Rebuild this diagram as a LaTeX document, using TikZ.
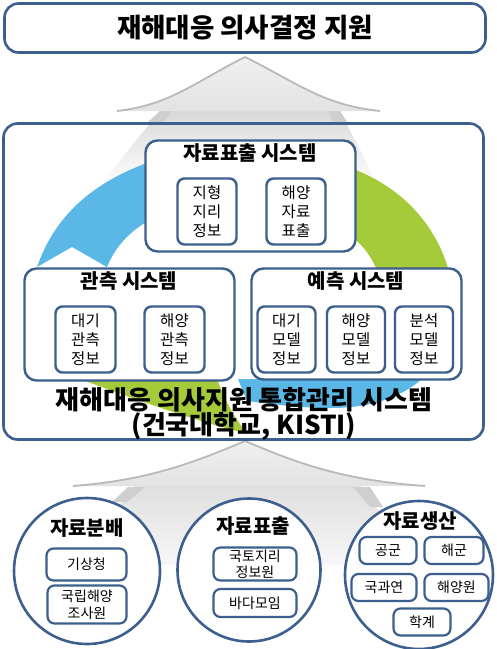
\documentclass[tikz,border=0pt]{standalone}
\usepackage{fontspec}
\setmainfont{Noto Sans CJK KR}
\definecolor{frame}{RGB}{60,95,142}
\definecolor{cycblue}{RGB}{91,184,230}
\definecolor{cycgreen}{RGB}{166,203,58}
\begin{document}
\begin{tikzpicture}[x=1pt,y=-1pt,
  panel/.style={draw=frame, line width=2.6pt, rounded corners=14pt, inner sep=0pt},
  group/.style={draw=frame, line width=2.4pt, rounded corners=12pt, fill=white, inner sep=0pt},
  item/.style={draw=frame, line width=2.4pt, rounded corners=7pt, fill=white, align=center, inner sep=0pt,
    minimum height=66pt, font=\fontsize{15.5}{19}\selectfont},
  chip/.style={draw=frame, line width=2.2pt, rounded corners=7pt, fill=white, align=center, inner sep=0pt,
    font=\fontsize{14}{16.5}\selectfont},
  hub/.style={draw=frame, line width=2.6pt, circle, fill=white, inner sep=0pt},
  grouptitle/.style={font=\fontsize{20}{22}\selectfont\bfseries},
  hubtitle/.style={font=\fontsize{20}{22}\selectfont\bfseries},
  roof/.style={draw=gray!55, line width=1.8pt},
]
\useasboundingbox (0,0) rectangle (497,649);
%----------------------------------------------------------
	% Upper gray arrow
	%------------------------------------------------------
	\shade[top color=gray!30, bottom color=white] (160,111) -- (340,111) -- (378,185) -- (100,185) -- cycle;
	\fill[gray!38] (160,111) -- (172,111) -- (163,123) -- (147,123) -- cycle;
	\fill[gray!38] (328,111) -- (340,111) -- (348,123) -- (333,123) -- cycle;
	\shade[top color=gray!12, bottom color=gray!22] (245,57) .. controls (195,82) and (170,105) .. (117,111)
	  -- (380,111) .. controls (322,105) and (296,82) .. (245,57);
	\draw[roof] (245,57) .. controls (195,82) and (170,105) .. (117,111);
	\draw[roof] (245,57) .. controls (296,82) and (322,105) .. (380,111);

	% Lower gray arrow
	%------------------------------------------------------
	\shade[top color=gray!25, bottom color=gray!6] (135,486) -- (360,486) -- (420,565) -- (70,565) -- cycle;
	\fill[gray!38] (128,487) -- (145,487) -- (127,502) -- (112,502) -- cycle;
	\fill[gray!38] (353,487) -- (370,487) -- (383,507) -- (370,507) -- cycle;
	\shade[top color=gray!12, bottom color=gray!22] (245,441) .. controls (195,462) and (150,480) .. (73,486)
	  -- (425,486) .. controls (340,480) and (295,462) .. (245,441);
	\draw[roof] (245,441) .. controls (195,462) and (150,480) .. (73,486);
	\draw[roof] (245,441) .. controls (295,462) and (340,480) .. (425,486);

	% Goal and system frames
	%------------------------------------------------------
	\node[panel, fill=white, minimum width=481pt, minimum height=49pt, font=\fontsize{26.5}{28}\selectfont\bfseries]
	  (goal) at (245,28) {재해대응 의사결정 지원};
	\node[panel, minimum width=480pt, minimum height=316pt] (hubsys) at (243.5,281.5) {};

	% Cycle bands
	%------------------------------------------------------
	\fill[cycblue] (37,267) .. controls (55,215) and (95,178) .. (165,157)
	  -- (165,214) .. controls (140,222) and (118,240) .. (107,267) -- (72,247) -- cycle;
	\fill[cycgreen] (335,163) .. controls (390,178) and (432,215) .. (448,268)
	  -- (376,268) .. controls (368,250) and (355,236) .. (335,226) -- cycle;
	\fill[cycgreen] (80,379) -- (217,379) .. controls (225,400) and (235,420) .. (248,434)
	  .. controls (200,422) and (150,405) .. (80,379) -- cycle;
	\fill[cycblue] (238,379) -- (422,379) .. controls (400,398) and (370,408) .. (330,408)
	  .. controls (300,408) and (270,404) .. (247,401) -- cycle;

	% Subsystems
	%------------------------------------------------------
	\node[group, minimum width=210pt, minimum height=111pt] (showsys) at (250.5,196) {};
	\node[grouptitle] (showtitle) at (250,153) {자료표출 시스템};
	\node[item, minimum width=59pt] (geoinfo) at (207,211.5) {지형\\지리\\정보};
	\node[item, minimum width=59pt] (seashow) at (296,211.5) {해양\\자료\\표출};

	\node[group, minimum width=210pt, minimum height=112pt] (obssys) at (129.5,324.5) {};
	\node[grouptitle] (obstitle) at (129,281) {관측 시스템};
	\node[item, minimum width=60pt] (airobs) at (85.5,339.5) {대기\\관측\\정보};
	\node[item, minimum width=60pt] (seaobs) at (174.5,339.5) {해양\\관측\\정보};

	\node[group, minimum width=210pt, minimum height=111pt] (fcstsys) at (356.5,324) {};
	\node[grouptitle] (fcsttitle) at (356,281) {예측 시스템};
	\node[item, minimum width=58pt] (airmodel) at (286.5,339.5) {대기\\모델\\정보};
	\node[item, minimum width=58pt] (seamodel) at (356,339.5) {해양\\모델\\정보};
	\node[item, minimum width=58pt] (anamodel) at (424,339.5) {분석\\모델\\정보};

	\node[font=\fontsize{26}{25.5}\selectfont\bfseries, align=center] (hubname) at (244,414)
	  {재해대응 의사지원 통합관리 시스템\\(건국대학교, KISTI)};

	% Data hubs
	%------------------------------------------------------
	\node[hub, minimum size=146pt] (spread) at (87,571) {};
	\node[hubtitle] (spreadtitle) at (87,528) {자료분배};
	\node[chip, minimum width=80pt, minimum height=32pt] (kma) at (86.5,564.5) {기상청};
	\node[chip, minimum width=79pt, minimum height=38pt] (khoa) at (87,604.5) {국립해양\\조사원};

	\node[hub, minimum size=143pt] (show) at (249,570) {};
	\node[hubtitle] (showhubtitle) at (253,526) {자료표출};
	\node[chip, minimum width=83pt, minimum height=33pt] (ngii) at (255,564) {국토지리\\정보원};
	\node[chip, minimum width=83pt, minimum height=28pt] (seamoim) at (255,603) {바다모임};

	\node[hub, minimum size=148pt] (make) at (419,575) {};
	\node[hubtitle] (maketitle) at (420,521) {자료생산};
	\node[chip, minimum width=57pt, minimum height=27pt] (airforce) at (388,550.5) {공군};
	\node[chip, minimum width=59pt, minimum height=27pt] (navy) at (454,550.5) {해군};
	\node[chip, minimum width=65pt, minimum height=27pt] (add) at (384,587.5) {국과연};
	\node[chip, minimum width=64pt, minimum height=27pt] (kiost) at (456.5,587.5) {해양원};
	\node[chip, minimum width=57pt, minimum height=27pt] (academy) at (422,622) {학계};
\end{tikzpicture}
\end{document}
